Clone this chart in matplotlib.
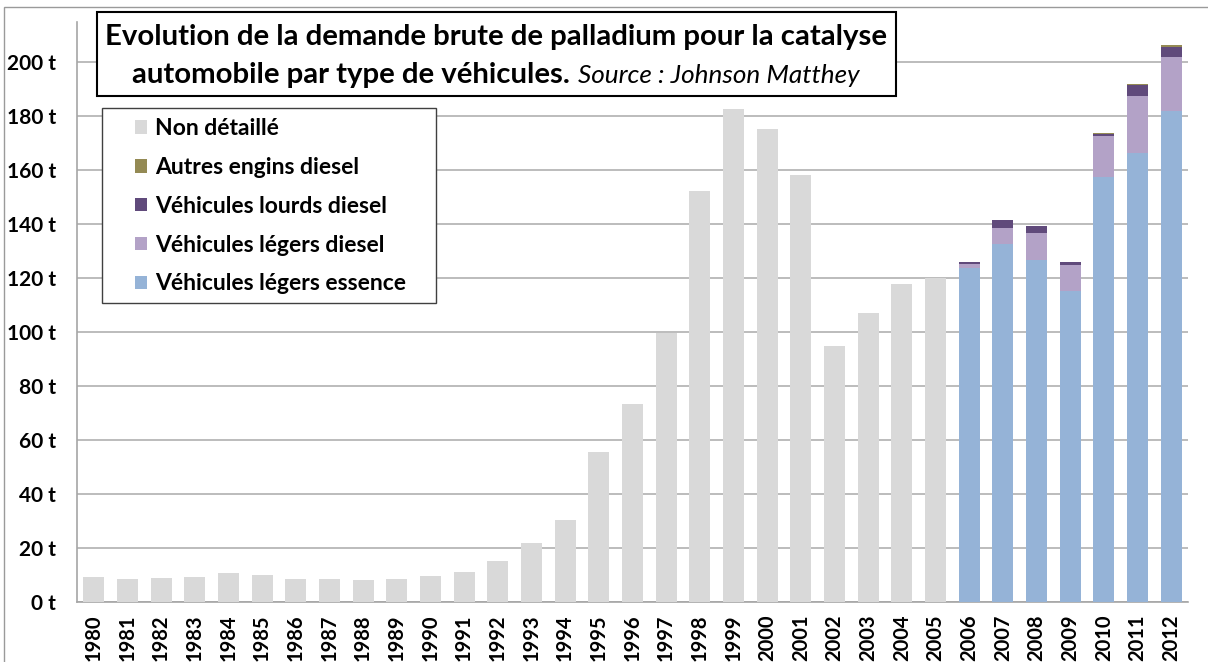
import matplotlib
matplotlib.use("Agg")
import matplotlib.pyplot as plt
from matplotlib.patches import Rectangle, Patch
from matplotlib.ticker import FuncFormatter, MultipleLocator

# ---------------- data ----------------
years = [str(y) for y in range(1980, 2013)]
non_detaille = [9.3, 8.4, 8.8, 9.3, 10.7, 10.0, 8.4, 8.4, 8.0, 8.4, 9.5, 11.1,
                15.2, 22.0, 30.2, 55.7, 73.3, 99.5, 152.2, 182.7, 175.2, 158.0,
                94.8, 107.1, 117.9, 120.1, 0, 0, 0, 0, 0, 0, 0]
years_detail = ["2006", "2007", "2008", "2009", "2010", "2011", "2012"]
legers_essence = [123.8, 132.7, 126.8, 115.1, 157.3, 166.2, 181.7]
legers_diesel = [1.3, 5.8, 9.9, 9.7, 15.3, 21.3, 20.3]
lourds_diesel = [0.8, 2.9, 2.4, 1.0, 0.8, 3.9, 3.7]
autres_diesel = [0.0, 0.0, 0.0, 0.0, 0.3, 0.4, 0.5]

labels = ["Non détaillé", "Autres engins diesel", "Véhicules lourds diesel",
          "Véhicules légers diesel", "Véhicules légers essence"]
colors = ["#d9d9d9", "#948a54", "#604a7b", "#b3a2c7", "#95b3d7"]

# ---------------- figure ----------------
W, H = 1208, 662
plt.rcParams['font.family'] = ['Lato', 'DejaVu Sans']
fig = plt.figure(figsize=(W / 100, H / 100), dpi=100)

def fx(px):
    return px / W

def fy(py):
    return 1 - py / H

ax = fig.add_axes([fx(77), fy(602), fx(1188) - fx(77), fy(22) - fy(602)])

bw = 0.63
ax.bar(years, non_detaille, width=bw, color=colors[0], zorder=3)
bottom = [0.0] * len(years_detail)
for vals, col in [(legers_essence, colors[4]), (legers_diesel, colors[3]),
                  (lourds_diesel, colors[2]), (autres_diesel, colors[1])]:
    ax.bar(years_detail, vals, width=bw, bottom=bottom, color=col, zorder=3)
    bottom = [b + v for b, v in zip(bottom, vals)]

ax.set_xlim(-0.5, len(years) - 0.5)
ax.set_ylim(0, 214.8)
ax.yaxis.set_major_locator(MultipleLocator(20))
ax.yaxis.set_major_formatter(FuncFormatter(lambda v, p: f"{int(v)} t" if v <= 200 else ""))
ax.grid(axis='y', color='#b0b0b0', linewidth=1.2, zorder=0)
ax.set_axisbelow(True)
for s in ['top', 'right']:
    ax.spines[s].set_visible(False)
for s in ['left', 'bottom']:
    ax.spines[s].set_color('#a6a6a6')
    ax.spines[s].set_linewidth(1.2)
ax.tick_params(axis='y', length=0, pad=15, labelsize=15)
ax.tick_params(axis='x', length=0, pad=9, labelsize=14.5, labelrotation=90)
for lab in ax.get_yticklabels() + ax.get_xticklabels():
    lab.set_fontweight('bold')

# outer chart border
fig.patches.append(Rectangle((fx(4), fy(H + 10)), fx(W + 10), fy(7) - fy(H + 10),
                             transform=fig.transFigure, fill=False,
                             edgecolor='#9a9a9a', linewidth=1.0))

# title box
fig.patches.append(Rectangle((fx(97), fy(96)), fx(896) - fx(97), fy(12) - fy(96),
                             transform=fig.transFigure, facecolor='white',
                             edgecolor='black', linewidth=1.5, zorder=5))
cx = 496
fig.text(fx(cx), fy(45), "Evolution de la demande brute de palladium pour la catalyse",
         ha='center', va='baseline', fontsize=21.2, fontweight='bold', zorder=6)
t2a = fig.text(0, fy(83), "automobile par type de véhicules.", ha='left',
               va='baseline', fontsize=21.2, fontweight='bold', zorder=6)
t2b = fig.text(0, fy(83), "Source : Johnson Matthey", ha='left', va='baseline',
               fontsize=18.8, fontstyle='italic', zorder=6)
fig.canvas.draw()
r = fig.canvas.get_renderer()
wa = t2a.get_window_extent(r).width
wb = t2b.get_window_extent(r).width
gap = 8
x0 = cx - (wa + gap + wb) / 2
t2a.set_x(fx(x0))
t2b.set_x(fx(x0 + wa + gap))

# legend box
fig.patches.append(Rectangle((fx(102), fy(303)), fx(436) - fx(102), fy(108) - fy(303),
                             transform=fig.transFigure, facecolor='white',
                             edgecolor='#404040', linewidth=1.0, zorder=5))
handles = [Patch(facecolor=c, edgecolor='none') for c in colors]
leg = fig.legend(handles, labels, loc='upper left',
                 bbox_to_anchor=(fx(135), fy(118)), frameon=False,
                 prop={'weight': 'bold', 'size': 16.5},
                 handlelength=0.53, handleheight=0.53, handletextpad=0.36,
                 labelspacing=0.78, borderpad=0, borderaxespad=0)
leg.set_zorder(7)

fig.savefig("out.png", dpi=100)
